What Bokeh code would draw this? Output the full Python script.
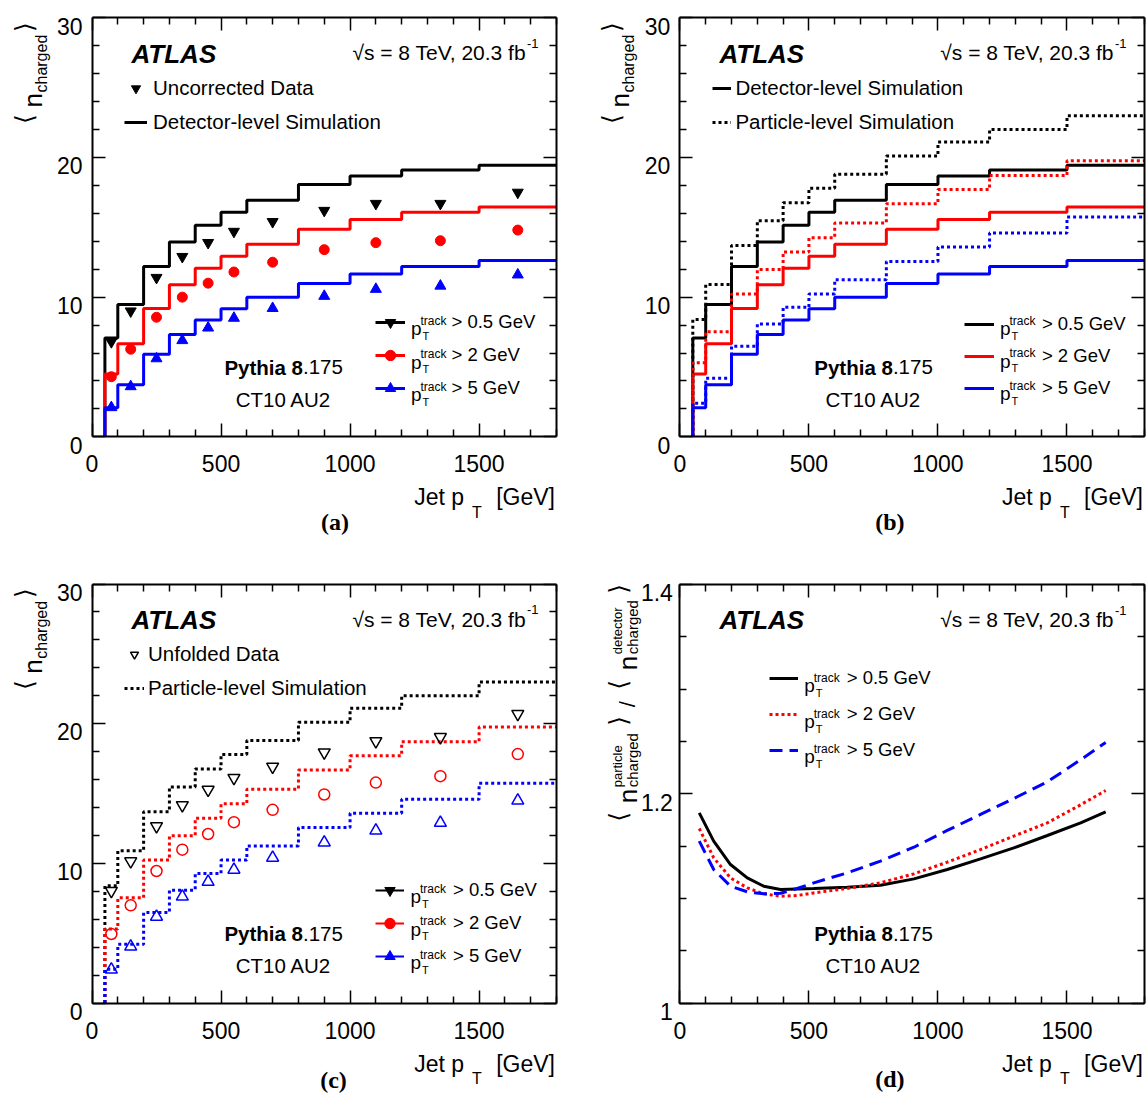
import math
from bokeh.plotting import figure
from bokeh.layouts import column, row
from bokeh.models import Range1d, LinearAxis, FixedTicker, Label, Legend, LegendItem
from bokeh.embed import file_html
from bokeh.resources import INLINE

# ---------------- data ----------------
bin_edges = [50, 100, 200, 300, 400, 500, 600, 800, 1000, 1200, 1500, 2000]
bin_centres = [75, 150, 250, 350, 450, 550, 700, 900, 1100, 1350, 1650]

det_sim_05 = [7.08, 9.47, 12.2, 13.95, 15.14, 16.08, 16.94, 18.06, 18.68, 19.11, 19.45]
det_sim_2 = [4.5, 6.67, 9.19, 10.89, 12.06, 12.92, 13.78, 14.86, 15.55, 16.08, 16.46]
det_sim_5 = [2.08, 3.73, 5.91, 7.32, 8.37, 9.16, 10.0, 10.98, 11.65, 12.2, 12.63]

part_sim_05 = [8.39, 10.9, 13.7, 15.47, 16.76, 17.8, 18.8, 20.1, 21.1, 22.0, 22.98]
part_sim_2 = [5.3, 7.53, 10.23, 11.97, 13.23, 14.26, 15.3, 16.69, 17.7, 18.7, 19.76]
part_sim_5 = [2.41, 4.2, 6.48, 8.08, 9.27, 10.23, 11.25, 12.56, 13.59, 14.59, 15.73]

raw_data_05 = [6.8, 9.0, 11.4, 12.9, 13.9, 14.7, 15.4, 16.2, 16.7, 16.7, 17.5]
raw_data_2 = [4.3, 6.27, 8.56, 10.0, 11.0, 11.8, 12.5, 13.4, 13.9, 14.04, 14.8]
raw_data_5 = [2.1, 3.6, 5.6, 6.9, 7.8, 8.5, 9.2, 10.07, 10.57, 10.8, 11.6]

unf_data_05 = [8.03, 10.15, 12.66, 14.17, 15.27, 16.12, 16.92, 17.94, 18.75, 19.04, 20.7]
unf_data_2 = [4.94, 6.99, 9.45, 10.98, 12.1, 12.95, 13.83, 14.93, 15.78, 16.24, 17.82]
unf_data_5 = [2.39, 4.04, 6.18, 7.62, 8.67, 9.54, 10.4, 11.49, 12.34, 12.9, 14.49]

ratio_x = [75, 131, 196, 261, 325, 390, 454, 519, 648, 777, 907, 1036, 1165, 1294, 1424, 1553, 1650]
ratio_05 = [1.1818, 1.1548, 1.1325, 1.1197, 1.1118, 1.1086, 1.1092, 1.1096, 1.1108, 1.1127,
            1.1188, 1.1277, 1.1379, 1.1484, 1.1602, 1.1723, 1.1828]
ratio_2 = [1.1669, 1.1389, 1.1197, 1.1102, 1.1045, 1.1022, 1.1029, 1.1054, 1.1096, 1.1150,
           1.1236, 1.1347, 1.1468, 1.1596, 1.1723, 1.1895, 1.2032]
ratio_5 = [1.1548, 1.1277, 1.1118, 1.1064, 1.1045, 1.1051, 1.1096, 1.1150, 1.1245, 1.1357,
           1.1490, 1.1650, 1.1803, 1.1955, 1.2115, 1.2325, 1.2490]

cut_labels = ["> 0.5 GeV", "> 2 GeV", "> 5 GeV"]

X_MAJOR = [0, 500, 1000, 1500]
X_MAJOR_LABELS = ["0", "500", "1000", "1500"]
X_MINOR = [v for v in range(100, 1801, 100) if v % 500 != 0]
N_MAJOR = [0, 10, 20, 30]
N_MAJOR_LABELS = ["0", "10", "20", "30"]
N_MINOR = [v for v in range(2, 30, 2) if v % 10 != 0]
R_MAJOR = [1.0, 1.2, 1.4]
R_MAJOR_LABELS = ["1", "1.2", "1.4"]
R_MINOR = [1.05, 1.1, 1.15, 1.25, 1.3, 1.35]

# ---------------- style / layout ----------------
FONT = "Liberation Sans"
BLACK, RED, BLUE = "#000000", "#ff0000", "#0000ff"
COLS = [BLACK, RED, BLUE]
FRAME_W, FRAME_H = 464.5, 419.0     # the drawn plot box
X_RANGE = (0, 1800)
DOT = "3 3"


def step_xy(edges, vals, xmax):
    xs, ys = [edges[0]], [0.0]
    for i, v in enumerate(vals):
        xs += [min(edges[i], xmax), min(edges[i + 1], xmax)]
        ys += [v, v]
    return xs, ys


def style_axis(ax, ticks, minor, fixed, bounds):
    ax.ticker = FixedTicker(ticks=ticks, minor_ticks=minor)
    ax.fixed_location = fixed
    ax.bounds = bounds
    ax.axis_line_color = "black"
    ax.axis_line_width = 2
    ax.major_tick_in = 13
    ax.major_tick_out = 0
    ax.minor_tick_in = 7
    ax.minor_tick_out = 0
    ax.major_tick_line_color = "black"
    ax.minor_tick_line_color = "black"
    ax.major_tick_line_width = 1.5
    ax.minor_tick_line_width = 1.5
    ax.major_label_overrides = {t: "" for t in ticks}
    ax.major_label_text_font_size = "0px"
    ax.major_label_standoff = 0


class Panel:
    def __init__(self, cw, ch, bl, bt, yr, ymajor, yminor, ylabels, ylab_dx):
        self.yr = yr
        self.bl, self.bt = bl, bt
        self.kx = (X_RANGE[1] - X_RANGE[0]) / FRAME_W
        self.ky = (yr[1] - yr[0]) / FRAME_H
        x0 = X_RANGE[0] - bl * self.kx
        y1 = yr[1] + bt * self.ky
        p = figure(width=cw, height=ch,
                   x_range=Range1d(x0, x0 + cw * self.kx),
                   y_range=Range1d(y1 - ch * self.ky, y1),
                   output_backend="svg", toolbar_location=None, title=None,
                   min_border_left=0, min_border_right=0, min_border_top=0, min_border_bottom=0)
        p.xgrid.visible = False
        p.ygrid.visible = False
        p.outline_line_color = None
        p.background_fill_color = "white"
        p.border_fill_color = "white"
        style_axis(p.xaxis[0], X_MAJOR, X_MINOR, yr[0], X_RANGE)
        style_axis(p.yaxis[0], ymajor, yminor, X_RANGE[0], yr)
        top = LinearAxis()
        style_axis(top, X_MAJOR, X_MINOR, yr[1], X_RANGE)
        p.add_layout(top, "above")
        right = LinearAxis()
        style_axis(right, ymajor, yminor, X_RANGE[1], yr)
        p.add_layout(right, "right")
        self.p = p
        self.cw, self.ch = cw, ch
        # tick labels, placed through the plot's own scales at the tick values
        for t, s in zip(X_MAJOR, X_MAJOR_LABELS):
            self.put_data(t, yr[0] - 27 * self.ky, s, 23, align="center")
        for t, s in zip(ymajor, ylabels):
            self.put_data(X_RANGE[0] + ylab_dx * self.kx, t - 8.2 * self.ky, s, 23, align="right")

    def put_data(self, x, y, text, size, style="normal", font=FONT, align="left",
                 baseline="alphabetic", angle=0.0):
        self.p.add_layout(Label(x=x, y=y, text=text, text_font=font, text_font_size=f"{size}px",
                                text_font_style=style, text_align=align, text_baseline=baseline,
                                angle=angle, text_color="black"))

    def put(self, dx, dy, text, size, **kw):
        x = X_RANGE[0] + dx * self.kx
        y = self.yr[1] - dy * self.ky
        self.put_data(x, y, text, size, **kw)

    def common_text(self, split, plabel, pl_dx, pl_dy):
        self.put(39.5, 35.7, "ATLAS", 26, style="bold italic")
        self.put(434, 35, "√s = 8 TeV, 20.3 fb", 21, align="right")
        self.put(435, 25.7, "-1", 13)
        self.put(split, 349.5, "Pythia 8", 20.5, style="bold", align="right")
        self.put(split, 349.5, ".175", 20.5)
        self.put(split - 19.5, 381.5, "CT10 AU2", 20.5, align="center")
        self.put(372, 479.5, "Jet p", 23, align="right")
        self.put(380, 494.5, "T", 16)
        self.put(463, 479.5, "[GeV]", 23, align="right")
        self.put(pl_dx, pl_dy, plabel, 24, style="bold", font="Liberation Serif", align="center")

    def ytitle_n(self):
        a = math.pi / 2
        self.put(-68, 101.2, "⟨", 25, font="DejaVu Sans", align="center", baseline="middle", angle=a)
        self.put(-59.5, 89.7, "n", 26, angle=a)
        self.put(-51, 74.7, "charged", 16, angle=a)
        self.put(-68, 9.2, "⟩", 25, font="DejaVu Sans", align="center", baseline="middle", angle=a)

    def ptrack(self, x_end, rows):
        for c in rows:
            self.put(x_end + 6, c + 5.5, "p", 19)
            self.put(x_end + 15.5, c - 2.3, "track", 12)
            self.put(x_end + 17.5, c + 12.7, "T", 11)

    def legend(self, items, x, rows, glyph_w, standoff, size):
        pitch = (rows[-1] - rows[0]) / (len(rows) - 1)
        lg = Legend(items=items, location=(self.bl + x, self.ch - self.bt - (rows[-1] + 13)),
                    orientation="vertical",
                    glyph_width=int(round(glyph_w)), glyph_height=26, label_height=26,
                    label_standoff=int(round(standoff)), spacing=int(round(pitch - 26)),
                    padding=0, margin=0, border_line_color=None, background_fill_alpha=0,
                    label_text_font=FONT, label_text_font_size=f"{size}px",
                    label_text_color="black")
        self.p.add_layout(lg)


yr_n = (0, 30)
markers = ["inverted_triangle", "circle", "triangle"]

# ---------------- panel (a) ----------------
A_ = Panel(587, 566, 91.5, 17.3, yr_n, N_MAJOR, N_MINOR, N_MAJOR_LABELS, -9.5)
pa = A_.p
a_lines, a_pts = [], []
for c, vals in zip(COLS, [det_sim_05, det_sim_2, det_sim_5]):
    xs, ys = step_xy(bin_edges, vals, X_RANGE[1])
    a_lines.append(pa.line(xs, ys, line_color=c, line_width=3))
for c, vals, m, s in zip(COLS, [raw_data_05, raw_data_2, raw_data_5], markers, [11, 10, 11]):
    a_pts.append(pa.scatter(bin_centres, vals, marker=m, size=s, fill_color=c, line_color=c))
A_.legend([LegendItem(label="Uncorrected Data", renderers=[a_pts[0]]),
           LegendItem(label="Detector-level Simulation", renderers=[a_lines[0]])],
          32.5, [70, 104.4], 23, 6, 20.5)
A_.legend([LegendItem(label=t, renderers=[l, s]) for t, l, s in zip(cut_labels, a_lines, a_pts)],
          283, [305.4, 338.7, 371], 30, 47, 18.5)
A_.ptrack(313, [305.4, 338.7, 371])
A_.common_text(211, "(a)", 243, 504)
A_.ytitle_n()

# ---------------- panel (b) ----------------
B_ = Panel(559, 566, 92.4, 17.3, yr_n, N_MAJOR, N_MINOR, N_MAJOR_LABELS, -9.5)
pb = B_.p
b_det, b_part = [], []
for c, vals in zip(COLS, [det_sim_05, det_sim_2, det_sim_5]):
    xs, ys = step_xy(bin_edges, vals, X_RANGE[1])
    b_det.append(pb.line(xs, ys, line_color=c, line_width=3))
for c, vals in zip(COLS, [part_sim_05, part_sim_2, part_sim_5]):
    xs, ys = step_xy(bin_edges, vals, X_RANGE[1])
    b_part.append(pb.line(xs, ys, line_color=c, line_width=3, line_dash=DOT))
B_.legend([LegendItem(label="Detector-level Simulation", renderers=[b_det[0]]),
           LegendItem(label="Particle-level Simulation", renderers=[b_part[0]])],
          33, [70, 104.4], 19, 4, 20.5)
B_.legend([LegendItem(label=t, renderers=[l]) for t, l in zip(cut_labels, b_det)],
          284.5, [305.4, 337.7, 370.4], 30, 48, 18.5)
B_.ptrack(314, [305.4, 337.7, 370.4])
B_.common_text(213, "(b)", 210, 504)
B_.ytitle_n()

# ---------------- panel (c) ----------------
C_ = Panel(587, 527, 91.5, 17.5, yr_n, N_MAJOR, N_MINOR, N_MAJOR_LABELS, -9.5)
pc = C_.p
c_part, c_pts = [], []
for c, vals in zip(COLS, [part_sim_05, part_sim_2, part_sim_5]):
    xs, ys = step_xy(bin_edges, vals, X_RANGE[1])
    c_part.append(pc.line(xs, ys, line_color=c, line_width=3, line_dash=DOT))
for c, vals, m, s in zip(COLS, [unf_data_05, unf_data_2, unf_data_5], markers, [12, 11, 12]):
    c_pts.append(pc.scatter(bin_centres, vals, marker=m, size=s, fill_color=None,
                            line_color=c, line_width=1.5))
# legend-only renderers (solid line + filled marker, as the reference legend shows),
# mapped onto a range that keeps them out of view
pc.extra_y_ranges = {"legend_only": Range1d(-1000, -999)}
c_proxy = []
for c, vals, m in zip(COLS, [unf_data_05, unf_data_2, unf_data_5], markers):
    l = pc.line(bin_centres, vals, line_color=c, line_width=2, y_range_name="legend_only")
    s = pc.scatter(bin_centres, vals, marker=m, fill_color=c, line_color=c,
                   y_range_name="legend_only")
    c_proxy.append([l, s])
C_.legend([LegendItem(label="Unfolded Data", renderers=[c_pts[0]]),
           LegendItem(label="Particle-level Simulation", renderers=[c_part[0]])],
          32.5, [70.5, 104.5], 20, 4, 20.5)
C_.legend([LegendItem(label=t, renderers=r) for t, r in zip(cut_labels, c_proxy)],
          283.5, [307, 339.7, 372.8], 29, 49, 18.5)
C_.ptrack(312.5, [307, 339.7, 372.8])
C_.common_text(211, "(c)", 241.5, 495.5)
C_.ytitle_n()

# ---------------- panel (d) ----------------
yr_r = (1.0, 1.4)
D_ = Panel(559, 527, 92.4, 17.8, yr_r, R_MAJOR, R_MINOR, R_MAJOR_LABELS, -7)
pd_ = D_.p
d_lines = [
    pd_.line(ratio_x, ratio_05, line_color=BLACK, line_width=3),
    pd_.line(ratio_x, ratio_2, line_color=RED, line_width=3, line_dash="3 3"),
    pd_.line(ratio_x, ratio_5, line_color=BLUE, line_width=3, line_dash="13 7"),
]
D_.legend([LegendItem(label=t, renderers=[l]) for t, l in zip(cut_labels, d_lines)],
          89.3, [95.6, 131.5, 166.6], 29, 49, 18.5)
D_.ptrack(118.3, [95.6, 131.5, 166.6])
D_.common_text(213, "(d)", 210, 495)
A = math.pi / 2
D_.put(-61, 232.5, "⟨", 25, font="DejaVu Sans", align="center", baseline="middle", angle=A)
D_.put(-52.4, 219, "n", 26, angle=A)
D_.put(-47, 203, "charged", 15, angle=A)
D_.put(-62, 203, "particle", 13, angle=A)
D_.put(-61, 136.5, "⟩", 25, font="DejaVu Sans", align="center", baseline="middle", angle=A)
D_.put(-52.4, 123, "/", 22, angle=A)
D_.put(-61, 100.5, "⟨", 25, font="DejaVu Sans", align="center", baseline="middle", angle=A)
D_.put(-52.4, 86, "n", 26, angle=A)
D_.put(-47, 70, "charged", 15, angle=A)
D_.put(-62, 70, "detector", 13, angle=A)
D_.put(-61, 4.5, "⟩", 25, font="DejaVu Sans", align="center", baseline="middle", angle=A)

layout = column(row(pa, pb), row(pc, pd_))
open("out.html", "w").write(file_html(layout, INLINE))
